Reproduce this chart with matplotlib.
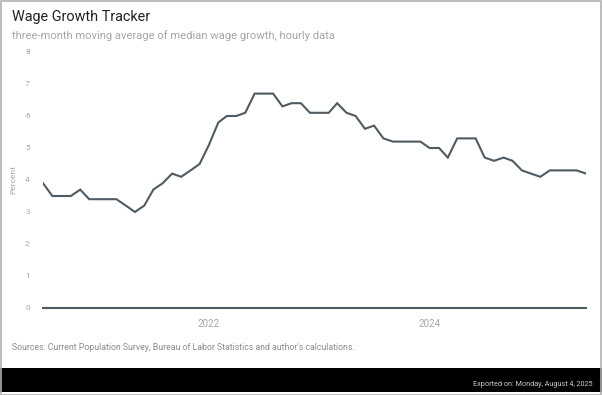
import matplotlib
matplotlib.use("Agg")
import matplotlib.pyplot as plt
import pandas as pd
from matplotlib.patches import Rectangle

plt.rcParams["font.family"] = ["Roboto", "DejaVu Sans"]

# monthly, July 2020 – June 2025
months = pd.date_range("2020-07-01", "2025-06-01", freq="MS")
wage_growth = [
    3.9, 3.5, 3.5, 3.5, 3.7, 3.4,            # 2020 Jul-Dec
    3.4, 3.4, 3.4, 3.2, 3.0, 3.2,            # 2021 Jan-Jun
    3.7, 3.9, 4.2, 4.1, 4.3, 4.5,            # 2021 Jul-Dec
    5.1, 5.8, 6.0, 6.0, 6.1, 6.7,            # 2022 Jan-Jun
    6.7, 6.7, 6.3, 6.4, 6.4, 6.1,            # 2022 Jul-Dec
    6.1, 6.1, 6.4, 6.1, 6.0, 5.6,            # 2023 Jan-Jun
    5.7, 5.3, 5.2, 5.2, 5.2, 5.2,            # 2023 Jul-Dec
    5.0, 5.0, 4.7, 5.3, 5.3, 5.3,            # 2024 Jan-Jun
    4.7, 4.6, 4.7, 4.6, 4.3, 4.2,            # 2024 Jul-Dec
    4.1, 4.3, 4.3, 4.3, 4.3, 4.2,            # 2025 Jan-Jun
]
y_ticks = [0, 1, 2, 3, 4, 5, 6, 7, 8]
x_ticks = ["2022-01-01", "2024-01-01"]
x_tick_labels = ["2022", "2024"]

LINE = "#4f5b63"
GREY = "#a6a6a6"

fig = plt.figure(figsize=(6.02, 3.95), dpi=100)
W, H = 602, 395
ax = fig.add_axes([43 / W, (H - 308) / H, (586 - 43) / W, (308 - 52) / H])

ax.plot(months, wage_growth, color=LINE, linewidth=1.5, solid_joinstyle="miter")

ax.set_ylim(0, 8)
ax.set_xlim(months[0], months[-1])
ax.set_yticks(y_ticks)
ax.set_yticklabels([str(t) for t in y_ticks])
ax.set_xticks(pd.to_datetime(x_ticks))
ax.set_xticklabels(x_tick_labels)

for s in ["top", "right", "left"]:
    ax.spines[s].set_visible(False)
ax.spines["bottom"].set_color(LINE)
ax.spines["bottom"].set_linewidth(1.5)
ax.tick_params(axis="y", length=0, pad=9.5, labelsize=6, labelcolor=GREY)
ax.tick_params(axis="x", length=0, pad=8, labelsize=7, labelcolor=GREY)
ax.set_ylabel("Percent", fontsize=6, color=GREY, labelpad=6)

fig.text(12 / W, 1 - 17 / H, "Wage Growth Tracker", fontsize=10.4, color="#222222",
         va="center", ha="left")
fig.text(12 / W, 1 - 36 / H,
         "three-month moving average of median wage growth, hourly data",
         fontsize=8.1, color=GREY, va="center", ha="left")
fig.text(12 / W, 1 - 348 / H,
         "Sources: Current Population Survey, Bureau of Labor Statistics and author's calculations.",
         fontsize=6.35, color="#8c8c8c", va="center", ha="left")

# black footer band
fig.patches.append(Rectangle((0, (H - 392) / H), 1, 24 / H, transform=fig.transFigure,
                             facecolor="black", edgecolor="none", zorder=0))
fig.text(593 / W, 1 - 384 / H, "Exported on: Monday, August 4, 2025",
         fontsize=5.25, color="#cccccc", va="center", ha="right")

# outer frame
fig.patches.append(Rectangle((0.5 / W, 0.5 / H), 1 - 2 / W, 1 - 1.5 / H,
                             transform=fig.transFigure, facecolor="none",
                             edgecolor="#b0b0b0", linewidth=1.2, zorder=5))

fig.savefig("out.png", dpi=100)
